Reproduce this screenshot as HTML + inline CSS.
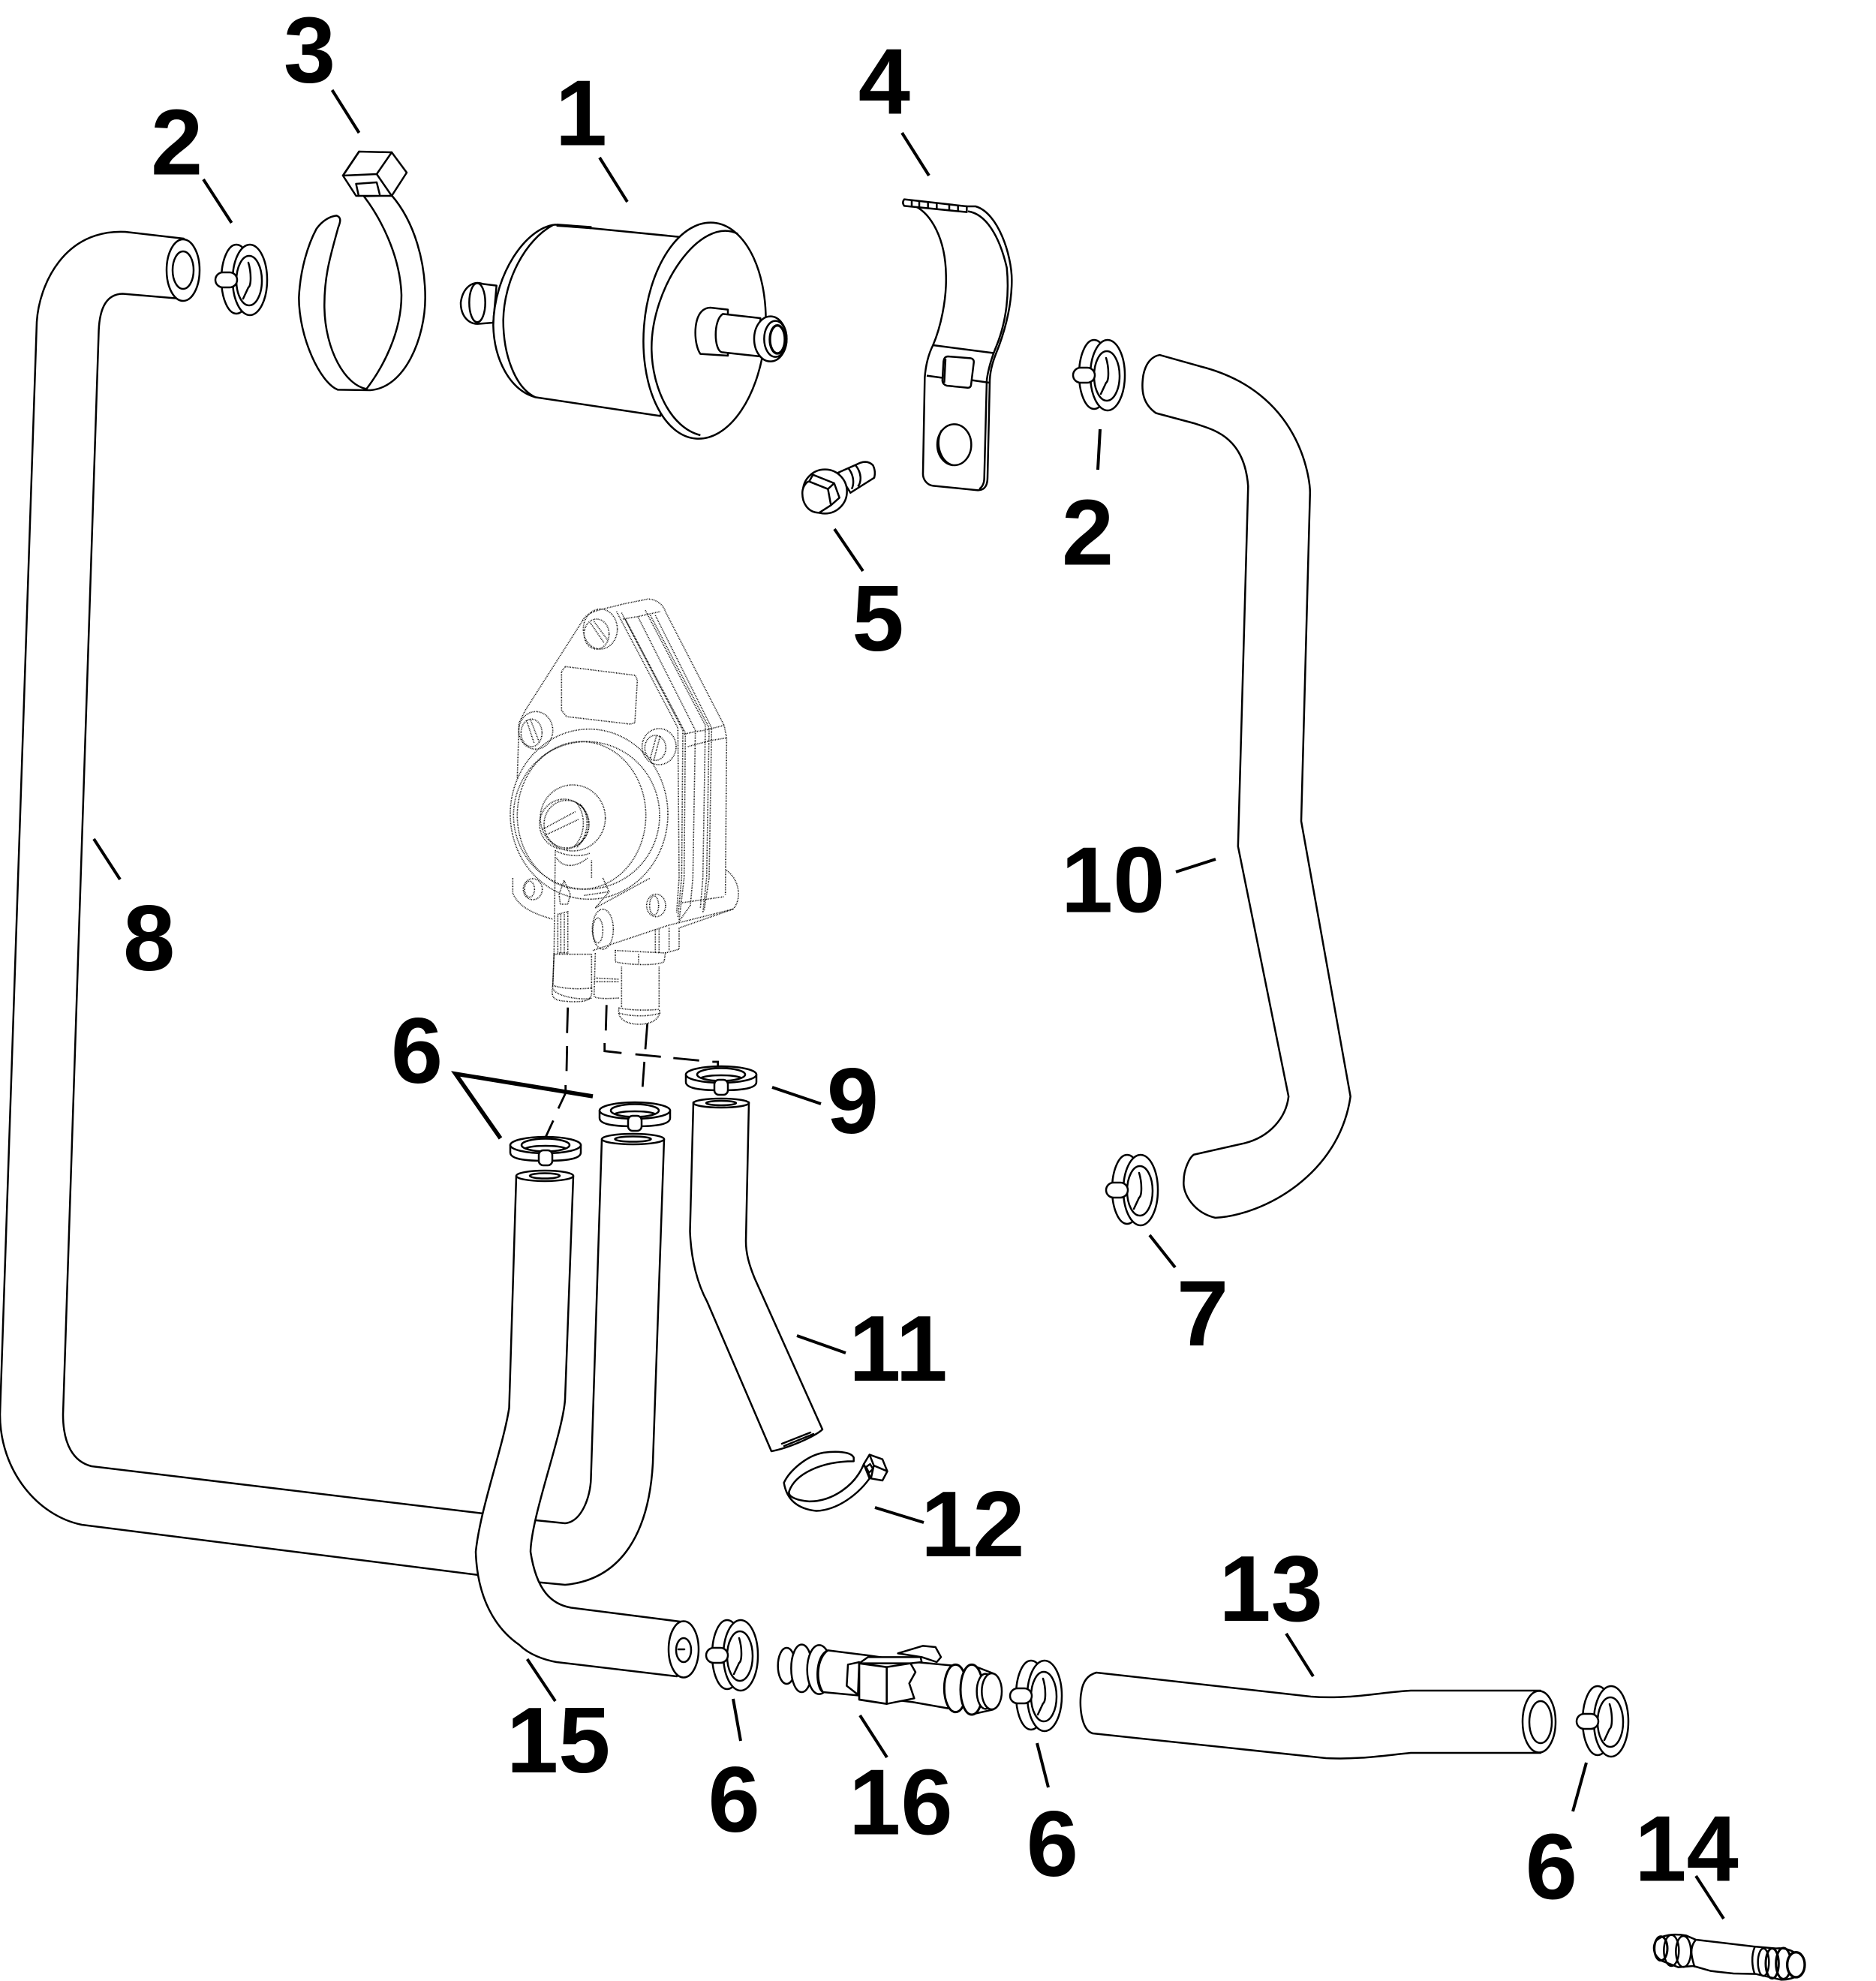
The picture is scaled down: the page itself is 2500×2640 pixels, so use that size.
<!DOCTYPE html>
<html><head><meta charset="utf-8"><style>
html,body{margin:0;padding:0;background:#fff}
svg{display:block}
text{font-family:"Liberation Sans",sans-serif;font-weight:700;font-size:74px;text-anchor:middle;fill:#000}
.s *{stroke:#000;stroke-linejoin:round;stroke-linecap:round;stroke-width:2.5;fill:none}
.s .f{fill:#fff}
.x *{stroke:#000;stroke-linejoin:round;stroke-width:7.5;fill:none}
.x .f{fill:#fff}
.y *{stroke:#000;stroke-linejoin:round;stroke-width:6.5;fill:none}
.y .f{fill:#fff}
.p *{stroke:#000;stroke-width:1.6;stroke-dasharray:1 1.2;fill:none;vector-effect:non-scaling-stroke}
.d *{stroke:#000;stroke-width:2.8;fill:none}
.l *{stroke:#000;stroke-width:4;fill:none}
</style></head><body>
<svg width="2500" height="2640" viewBox="0 0 2500 2640" xmlns="http://www.w3.org/2000/svg">
<defs>
<g id="c" class="s">
<ellipse cx="-18" cy="-1" rx="20" ry="46" class="f"/>
<ellipse cx="0" cy="0" rx="23" ry="47" class="f"/>
<ellipse cx="-1" cy="1" rx="17" ry="33" class="f"/>
<path d="M-2,-23C2,-10 2,8 -2,10L-9,25"/>
<rect x="-46" y="-10" width="29" height="20" rx="10" class="f"/>
</g>
<g id="w" class="s">
<path d="M-47,0V10C-47,20 -20,21 0,21C20,21 47,20 47,10V0Z" class="f"/>
<ellipse cx="0" cy="0" rx="47" ry="11" class="f"/>
<ellipse cx="0" cy="0" rx="32" ry="8.5" class="f"/>
<path d="M-26,4C-15,0 15,0 26,4"/>
<rect x="-9" y="7" width="18" height="20" rx="6" class="f"/>
</g>
</defs>
<rect width="2500" height="2640" fill="#fff"/>

<!-- pump -->
<g class="p" transform="translate(640,770) scale(.33333)">
<path d="M410,170L180,530L155,580L148,800"/>
<path d="M130,1200V1260C150,1310 200,1340 290,1365"/>
<path d="M410,170C430,130 500,125 570,105L670,85C710,85 735,115 740,135L975,590L985,640L980,1270"/>
<path d="M985,1170C1040,1210 1045,1290 1010,1325L795,1400"/>
<path d="M450,1490L750,1390L1010,1325"/>
<path d="M460,1320L680,1200M415,1270L515,1255M490,1200L515,1255L460,1320"/>
<path d="M545,135L790,600L795,1200L785,1340M565,140L810,610L805,1200L790,1360M580,165L820,620L815,1200L795,1370"/>
<path d="M630,155L860,610L850,1200L840,1310L790,1380M660,130L900,590L890,1200L880,1320M680,150L915,600L905,1200L890,1340M700,150L925,600L915,1200L895,1330"/>
<path d="M815,625L860,615L895,610L975,590M830,675L865,665L925,650L985,640M570,165L630,155L720,135"/>
<path d="M800,1300L975,1275"/>
<path d="M340,355L620,390L628,410L618,580L600,585L345,555L325,530L325,375Z"/>
<ellipse cx="480" cy="205" rx="68" ry="80"/><ellipse cx="465" cy="225" rx="50" ry="60"/><path d="M440,180L495,260M455,175L510,250"/>
<ellipse cx="222" cy="610" rx="68" ry="75"/><ellipse cx="205" cy="620" rx="42" ry="55"/><path d="M185,570L215,660M200,565L235,655"/>
<ellipse cx="715" cy="675" rx="68" ry="72"/><ellipse cx="700" cy="680" rx="42" ry="50"/><path d="M680,720L705,630M695,725L720,630"/>
<ellipse cx="435" cy="945" rx="315" ry="340"/>
<ellipse cx="425" cy="950" rx="292" ry="295"/>
<ellipse cx="405" cy="950" rx="257" ry="295"/>
<ellipse cx="370" cy="960" rx="130" ry="132"/>
<ellipse cx="335" cy="985" rx="98" ry="100"/>
<ellipse cx="345" cy="985" rx="90" ry="95"/>
<path d="M250,1005L380,935M258,1030L395,965M385,900C425,950 420,1030 375,1075M400,905C440,950 435,1030 385,1080"/>
<path d="M300,1090C330,1110 400,1120 440,1100M305,1120C330,1160 380,1160 430,1120"/>
<path d="M300,1090L295,1500M445,1130L445,1200"/>
<ellipse cx="210" cy="1245" rx="38" ry="42"/><ellipse cx="197" cy="1245" rx="20" ry="32"/>
<path d="M335,1210L315,1265L320,1305H350L360,1265Z"/>
<path d="M310,1345L350,1335V1500H310Z"/><path d="M322,1345V1500M336,1345V1500"/>
<path d="M295,1505H445M445,1505L445,1640"/>
<path d="M295,1500L290,1630C280,1690 300,1690 365,1695C430,1695 450,1690 445,1640C400,1645 340,1645 290,1630ZM290,1640C300,1680 430,1690 445,1680"/>
<ellipse cx="703" cy="1310" rx="38" ry="45"/><ellipse cx="695" cy="1310" rx="18" ry="38"/>
<ellipse cx="490" cy="1405" rx="42" ry="80"/><ellipse cx="470" cy="1410" rx="20" ry="50"/>
<path d="M460,1500L455,1670C455,1680 480,1685 555,1680M455,1600L555,1605M455,1615L555,1615"/>
<path d="M540,1490L740,1500L735,1535C700,1555 570,1545 540,1535ZM633,1505V1545"/>
<path d="M700,1405V1500M715,1405V1500M755,1400V1490M795,1400V1485L740,1500"/>
<path d="M565,1555V1720M715,1555V1720"/>
<path d="M555,1720C545,1760 580,1785 635,1785C700,1785 725,1750 715,1725C680,1730 600,1730 555,1720ZM555,1740C600,1755 680,1755 720,1740"/>
</g>

<!-- dashed -->
<g class="d">
<path d="M756.7,1342.7L755.7,1376.7M755.7,1394L755,1427.3M753.7,1446V1456.7L744,1477.3M737.3,1493.3L727.3,1515"/>
<path d="M808.3,1339.3L807.3,1373.3M805.7,1390V1400.7L828.3,1403.3M846.7,1405L880.7,1408.3M897.3,1410L931.7,1413.3M949.3,1415H956.7V1420"/>
<path d="M862.7,1364L860,1398.3M858.7,1415L856.3,1448.3"/>
</g>

<!-- hoses 8 and 15, 11 -->
<g class="s">
<path d="M245,318L167,309C85,305 52,380 49,429L0,1885C0,1960 50,2020 109,2032L638,2099"/>
<path d="M240,398L163.5,391.5C142,392 133,410 131.6,440L84,1885C84,1925 98,1948 122,1954L644,2017"/>
<path d="M714,2026L753,2030C775,2028 787,1995 787.5,1970L802,1518"/>
<path d="M711,2108L753,2112C830,2105 865,2040 870,1950L885,1518"/>
<ellipse cx="244" cy="360" rx="22" ry="41" class="f"/><ellipse cx="244" cy="360" rx="14" ry="25"/>
<ellipse cx="843.5" cy="1518" rx="41.5" ry="7" class="f"/><ellipse cx="843.5" cy="1518" rx="24" ry="3.5"/>
<path class="f" d="M688,1567L678.5,1876.5C670,1930 640,2010 634,2068C636,2130 660,2170 692,2192C705,2205 725,2212 741.6,2215L902,2234L914,2162L761,2142.5C735,2138 715,2120 707,2068C708,2020 750,1910 753,1865L764,1567Z"/>
<ellipse cx="726" cy="1567" rx="38" ry="7" class="f"/><ellipse cx="726" cy="1567" rx="20" ry="3.5"/>
<ellipse cx="911" cy="2198" rx="20" ry="37.5" class="f"/><ellipse cx="911" cy="2199" rx="10" ry="16" class="f"/>
<path d="M904,2198H912"/>
<path class="f" d="M924,1469L919.5,1641C921,1680 930,1712 942.5,1735L1028,1934C1050,1930 1085,1915 1096,1905L1005.7,1703.6C998,1685 994,1670 994,1654L998,1469Z"/>
<ellipse cx="961" cy="1470" rx="37" ry="6" class="f"/><ellipse cx="961" cy="1470" rx="20" ry="3"/>
<path d="M1042,1924L1080,1909M1045,1927L1084,1911"/>
</g>

<!-- clamp 12 -->
<g class="y" transform="translate(600,1800) scale(.3827)">
<path class="f" d="M1405,372C1395,350 1340,350 1300,355C1240,365 1180,420 1162,460C1170,510 1200,550 1275,558C1350,555 1420,500 1460,445L1440,395C1410,470 1330,525 1250,525C1210,522 1175,510 1180,490C1200,430 1290,385 1405,385Z"/>
<polygon class="f" points="1460,362 1505,378 1522,420 1505,452 1465,445 1440,395"/>
<path d="M1460,362L1475,400L1522,420M1475,400L1465,445M1448,405L1462,395L1472,412L1458,425Z"/>
</g>

<!-- hose 10 -->
<g class="s" transform="scale(1.6835)">
<path class="f" style="stroke-width:1.5" d="M918,281L950,290C1030,310 1037,380 1037,390L1030,650L1069,868C1060,930 1000,962 962,964C945,960 936,945 937,935C937,925 942,916 945,914L985,905C1005,900 1018,885 1020,868L980,670L988,385C985,345 960,340 945,335L915,327C905,320 903,310 905,297C907,287 912,282 918,281Z"/>
</g>

<!-- filter -->
<g class="x" transform="translate(600,240) scale(.33333)">
<path class="f" d="M185,422L130,415C90,400 50,430 42,490C42,540 70,575 110,575L172,570Z"/>
<ellipse cx="108" cy="490" rx="32" ry="78" class="f"/>
<path class="f" d="M420,178C300,190 175,380 172,580C175,720 240,840 340,868L840,943L925,228Z"/>
<path d="M410,180C300,240 215,400 212,560C212,700 260,830 340,868"/>
<ellipse cx="1017" cy="602" rx="243" ry="433" transform="rotate(4.6 1017 602)" class="f"/>
<path d="M1150,215C1000,140 800,430 805,680C808,830 880,990 1000,1020"/>
<path class="f" d="M1040,510L1110,518L1110,702L1000,695C975,660 970,560 1005,525Q1020,510 1040,510Z"/>
<path class="f" d="M1090,535L1240,552V705L1085,688C1055,680 1050,560 1090,535Z"/>
<ellipse cx="1280" cy="635" rx="65" ry="90" class="f"/>
<ellipse cx="1300" cy="635" rx="45" ry="72" class="f"/>
<ellipse cx="1308" cy="637" rx="30" ry="56" class="f" style="stroke-width:10"/>
<path d="M425,180L565,190" style="stroke-width:12"/>
</g>

<!-- tie 3 -->
<g class="x" transform="translate(200,250) scale(.33333)">
<path class="f" d="M965,30C1060,140 1100,300 1100,440C1100,600 1020,800 880,810L750,808C680,780 595,600 595,440C600,330 630,230 665,165C690,130 720,115 745,112C765,118 762,135 752,160C725,260 695,350 697,480C700,650 780,790 865,805C930,720 1005,580 1005,430C1000,270 920,120 855,35Z"/>
</g>
<g class="s">
<polygon class="f" points="478.5,202 522,203 542,230 522,261 474.5,261 457,234"/>
<path d="M478.5,202L457,234L502,232L522,203M502,232L522,261M474.5,245L502,243L506,259M474.5,245L478,261"/>
</g>

<!-- bracket + bolt -->
<g class="x" transform="translate(1020,240) scale(.33333)">
<path class="f" d="M600,105C660,135 720,230 722,380C725,480 700,590 670,660C650,700 640,750 637,790L630,1170C628,1200 650,1220 670,1222L850,1240C880,1240 888,1215 888,1190L897,800C900,740 920,700 935,660C960,590 985,500 985,400C985,300 930,130 840,105Z"/>
<path d="M810,125C880,135 935,220 965,350C975,450 965,560 925,660C900,720 890,760 885,800L875,1190C875,1210 870,1225 855,1235"/>
<path d="M670,660L915,692M645,782L705,790M825,800L895,810"/>
<path class="f" d="M730,705L820,712Q835,715 833,730L822,820Q820,832 805,830L725,822Q705,815 708,795L712,725Q715,705 730,705Z"/>
<path d="M720,715L715,810"/>
<ellipse cx="755" cy="1058" rx="68" ry="82" class="f"/>
<path d="M705,1000C675,1050 700,1130 750,1140"/>
<path class="f" d="M555,77L805,105V128L555,103Q545,90 555,77Z"/>
<path d="M585,80V105M615,85V108M650,90V112M685,94V115M735,100V122M770,102V125"/>
<path class="f" d="M290,1170L380,1130Q410,1120 430,1140Q442,1165 435,1190L340,1250Z"/>
<path d="M330,1150C355,1180 355,1215 345,1235M360,1140C385,1170 385,1205 370,1225"/>
<ellipse cx="238" cy="1245" rx="88" ry="88" class="f"/>
<path class="f" d="M190,1178L275,1212L296,1270L262,1300L215,1330C170,1330 145,1290 148,1245C150,1225 165,1205 175,1205Z"/>
<path d="M175,1205L250,1235L262,1300M250,1235L275,1212"/>
</g>

<!-- T fitting -->
<g class="x" transform="translate(980,2140) scale(.33333)">
<path class="f" d="M650,190L750,160L800,165L822,205L805,225L745,205Z"/>
<ellipse cx="205" cy="240" rx="35" ry="72" class="f"/>
<ellipse cx="265" cy="250" rx="42" ry="95" class="f"/>
<ellipse cx="335" cy="255" rx="48" ry="98" class="f"/>
<path class="f" d="M370,178L520,197L720,225L880,240L850,410L710,385L490,358L350,345C320,330 315,200 370,178Z"/>
<path d="M350,345C320,300 325,210 370,178"/>
<path class="f" d="M495,225L450,235L445,320L490,355L495,225ZM495,230L530,205L740,205L745,225L700,230Z"/>
<path class="f" d="M605,245L700,230L720,265L695,310L715,370L605,392Z"/>
<path class="f" d="M495,230L605,245V392L495,375Z" style="stroke-width:8"/>
<ellipse cx="880" cy="330" rx="45" ry="95" class="f" style="stroke-width:9"/>
<path class="f" d="M945,237L1030,270V415L950,433Z"/>
<ellipse cx="945" cy="335" rx="45" ry="100" class="f" style="stroke-width:9"/>
<ellipse cx="1000" cy="342" rx="35" ry="70" class="f"/>
<ellipse cx="1025" cy="342" rx="40" ry="72" class="f"/>
</g>

<!-- hose 13 -->
<g class="s">
<path class="f" d="M1461,2229L1747,2261C1800,2265 1840,2255 1880,2253L2053,2253V2336L1880,2336C1840,2340 1810,2345 1767,2343L1456,2310C1440,2305 1438,2270 1441,2255C1443,2240 1450,2232 1461,2229Z"/>
<ellipse cx="2051" cy="2294.5" rx="22" ry="41" class="f"/><ellipse cx="2053" cy="2295" rx="15" ry="28"/>
</g>

<!-- fitting 14 -->
<g class="x" transform="translate(2140,2440) scale(.33333)">
<path class="f" d="M200,440C225,415 270,410 320,418L360,435L590,462L680,470C730,465 780,490 795,535C795,565 760,595 700,595L600,572L510,570L420,560L350,540L290,545L225,520C190,500 185,465 200,440Z"/>
<ellipse cx="220" cy="470" rx="26" ry="48" style="stroke-width:9"/>
<ellipse cx="262" cy="478" rx="30" ry="62"/>
<ellipse cx="310" cy="482" rx="30" ry="62"/>
<path d="M360,435C330,470 345,510 355,545"/>
<path d="M595,465C580,500 585,545 595,572"/>
<ellipse cx="630" cy="525" rx="22" ry="55"/>
<ellipse cx="665" cy="530" rx="26" ry="60" style="stroke-width:9"/>
<ellipse cx="710" cy="530" rx="30" ry="62" style="stroke-width:9"/>
<ellipse cx="760" cy="535" rx="35" ry="50" class="f" style="stroke-width:10"/>
</g>

<use href="#c" x="333" y="373"/>
<use href="#c" x="1476" y="500"/>
<use href="#c" x="1520" y="1586"/>
<use href="#c" x="987" y="2206"/>
<use href="#c" x="1392" y="2260"/>
<use href="#c" x="2147" y="2294"/>
<use href="#w" x="727" y="1526"/>
<use href="#w" x="846" y="1480"/>
<use href="#w" x="961" y="1432"/>

<g class="l">
<path d="M442.6,120L478.5,177M271,239L308.6,297M799,210L836,269M1202,177L1238,234M1466,572L1463,626M1112,705L1150,761M125,1118L160,1172M1567,1162L1620,1145M1029,1449L1094,1471"/>
<path d="M667,1517L607,1431L790,1461" style="stroke-width:5.5"/>
<path d="M1062,1780L1127,1803M1166,2009L1231,2029M1532,1646L1566,1689M702.6,2211L740,2267M977,2264L987,2320M1146,2286L1182,2342M1382,2323L1397,2382M1714,2177L1750,2234M2114,2349L2096,2414M2260,2500L2297,2557"/>
</g>

<g transform="scale(1.6835)">
<text x="245" y="65">3</text>
<text x="140" y="138">2</text>
<text x="460" y="115">1</text>
<text x="700" y="90">4</text>
<text x="861" y="447">2</text>
<text x="695" y="515">5</text>
<text x="118" y="768">8</text>
<text x="881" y="722">10</text>
<text x="330" y="857">6</text>
<text x="675" y="897">9</text>
<text x="711" y="1093">11</text>
<text x="770" y="1232">12</text>
<text x="952" y="1065">7</text>
<text x="442" y="1403">15</text>
<text x="581" y="1450">6</text>
<text x="713" y="1452">16</text>
<text x="833" y="1485">6</text>
<text x="1006" y="1283">13</text>
<text x="1228" y="1503">6</text>
<text x="1335" y="1489">14</text>
</g>
</svg>
</body></html>
